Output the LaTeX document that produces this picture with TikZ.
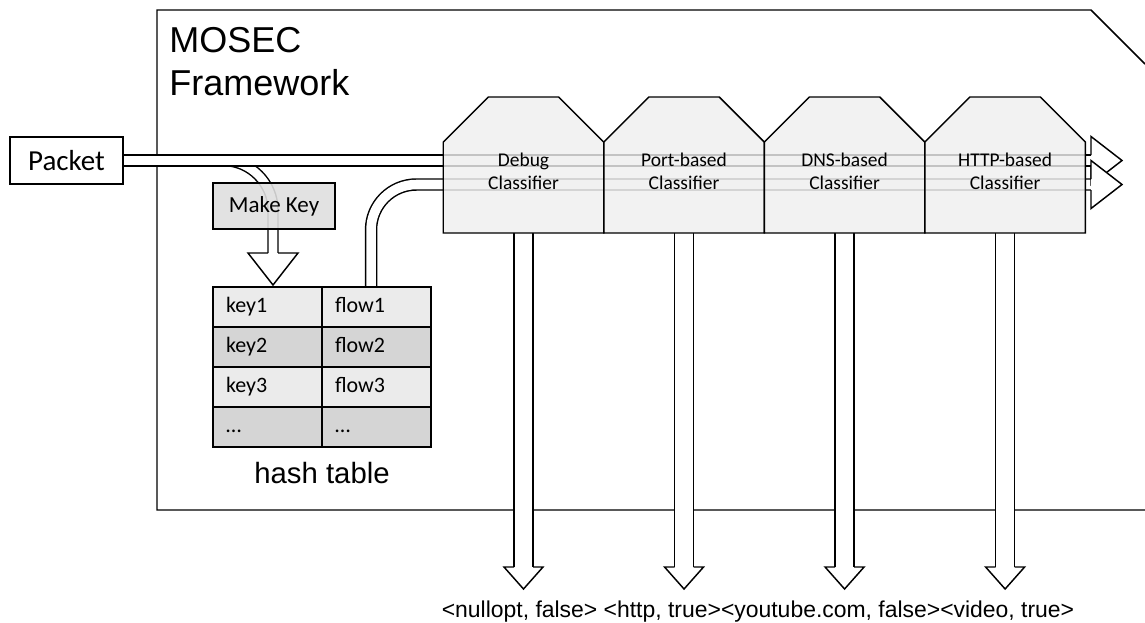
\documentclass[tikz,border=0pt]{standalone}
\usepackage{fontspec}
\setmainfont{Carlito}
\newfontfamily\arialfont{Liberation Sans}
\usetikzlibrary{positioning,shapes.misc,shadows,calc}
\pgfdeclarelayer{back}
\pgfsetlayers{back,main}

\definecolor{clsgray}{HTML}{EFEFEF}
\definecolor{keygray}{HTML}{E4E4E4}
\definecolor{rowlight}{HTML}{EBEBEB}
\definecolor{rowdark}{HTML}{D5D5D5}

\tikzset{
  box/.style={draw, line width=1.1pt, fill=white, outer sep=0pt},
  shadowed/.style={drop shadow={shadow xshift=1pt, shadow yshift=-1pt, opacity=0.3}},
  classifier/.style={box, chamfered rectangle,
    chamfered rectangle corners={north west,north east},
    chamfered rectangle sep=16.9pt, minimum width=120.4pt, minimum height=102pt,
    inner sep=0pt, fill=clsgray, fill opacity=0.82, text opacity=1,
    text height=36pt, text depth=0pt,
    align=center, font=\fontsize{14.6}{17}\selectfont},
  cell/.style={box, minimum height=30pt, text width=62.25pt, inner xsep=9.75pt,
    inner ysep=0pt, text height=11.5pt, text depth=3.5pt,
    align=left, font=\fontsize{16.5}{19}\selectfont},
  pipe/.style={draw, line width=1.1pt, double=white, double distance=7.15pt},
  pipe wide/.style={pipe, double distance=13.15pt},
  pipe thin/.style={pipe, double distance=6.4pt},
  pics/blockhead/.style n args={3}{code={
    \filldraw[fill=white, line width=1.1pt, line join=miter]
      (-#3,0) -- (-#1,0) -- (0,#2) -- (#1,0) -- (#3,0);
  }},
}

\begin{document}
\begin{tikzpicture}[x=0.75pt, y=-0.75pt]
  \useasboundingbox (0,0) rectangle (1145,622);

  % boxes
  \node[box, shadowed, minimum width=84.75pt, minimum height=35.25pt,
    font=\fontsize{21.75}{24}\selectfont] (packet) at (66.5,160.5) {Packet};
  \node[anchor=north west, inner sep=0pt, align=left,
    font=\fontsize{27}{32}\arialfont] (title) at (169,27) {MOSEC\\Framework};
  \node[box, shadowed, fill=keygray, fill opacity=0.85, text opacity=1,
    minimum width=91.5pt, minimum height=34.5pt,
    font=\fontsize{17.25}{20}\selectfont] (mkey) at (274,206) {Make Key};

  % classifier chain
  \node[classifier] (dbg) at (523.5,165) {Debug\\Classifier};
  \node[classifier, right=0pt of dbg] (port) {Port-based\\Classifier};
  \node[classifier, right=0pt of port] (dns) {DNS-based\\Classifier};
  \node[classifier, right=0pt of dns] (http) {HTTP-based\\Classifier};

  % hash table
  \foreach \i/\kname/\fname/\col in {1/key1/flow1/rowlight, 2/key2/flow2/rowdark,
      3/key3/flow3/rowlight, 4/…/…/rowdark}
  {
    \node[cell, fill=\col] (k\i) at (267.5,267+40*\i) {\kname};
    \node[cell, fill=\col, right=0pt of k\i] (f\i) {\fname};
  }
  \node[below=8pt of k4.south east, font=\fontsize{22}{26}\arialfont] (htlabel) {hash table};

  \node[anchor=base, font=\fontsize{17.2}{20}\arialfont] (result) at (758,617)
    {<nullopt, false> <http, true><youtube.com, false><video, true>};

  % frame and pipes underneath
  \begin{pgfonlayer}{back}
    \draw[line width=1.1pt] (1145,510) -- (157,510) -- (157,10) -- (1091,10) -- (1145,64);
    \coordinate (keyin) at (273,253);
    \coordinate (pktout) at (1091,160.5);
    \coordinate (flowout) at (1091,184.5);
    \coordinate (flowin) at ($(f1.north west)!0.45!(f1.north east)$);
    \coordinate (resin) at (0,567);
    \draw[pipe thin, rounded corners=37.5pt] (packet.east) -| (keyin);
    \draw[pipe] (packet.east) -- (pktout);
    \draw[pipe, rounded corners=34pt] (flowin) |- (flowout);
    \foreach \cls in {dbg, port, dns, http}
      \draw[pipe wide] (\cls.south) -- (\cls.south |- resin);
    \pic at (keyin) {blockhead={25}{32}{5}};
    \pic[rotate=90] at (pktout) {blockhead={24}{31}{5.5}};
    \pic[rotate=90] at (flowout) {blockhead={24}{31}{5.5}};
    \foreach \cls in {dbg, port, dns, http}
      \pic at (\cls.south |- resin) {blockhead={19.5}{22}{9.5}};
  \end{pgfonlayer}
\end{tikzpicture}
\end{document}
